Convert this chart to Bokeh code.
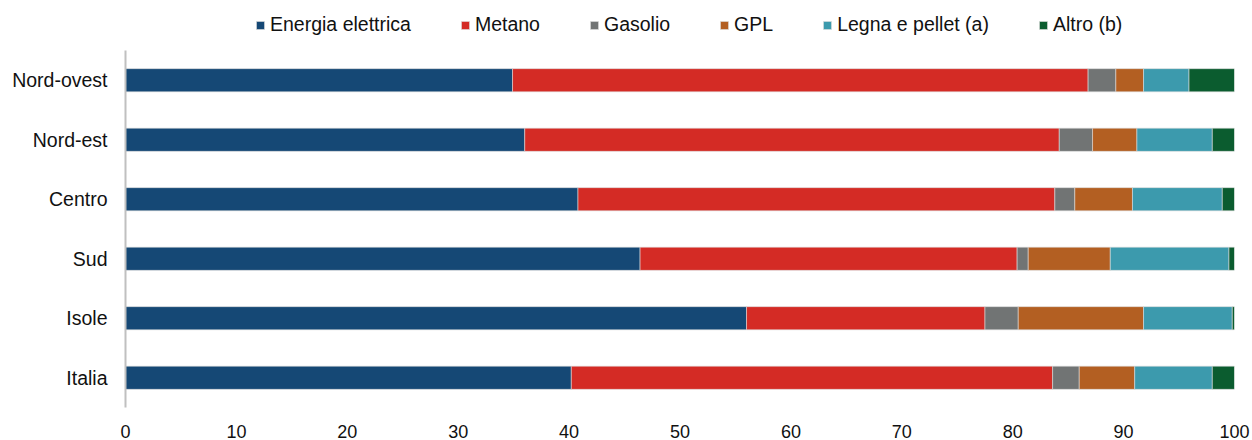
from bokeh.plotting import figure
from bokeh.models import Range1d, ColumnDataSource, Legend, LegendItem, FixedTicker
from bokeh.embed import file_html
from bokeh.resources import INLINE

# Regions, top to bottom
regions = ["Nord-ovest", "Nord-est", "Centro", "Sud", "Isole", "Italia"]

# Share (%) of each heating fuel per region
energia_elettrica = [34.9, 36.0, 40.8, 46.4, 56.0, 40.2]
metano = [51.9, 48.2, 43.0, 34.0, 21.5, 43.4]
gasolio = [2.5, 3.0, 1.8, 1.0, 3.0, 2.4]
gpl = [2.5, 4.0, 5.2, 7.4, 11.3, 5.0]
legna_pellet = [4.1, 6.8, 8.1, 10.7, 8.0, 7.0]
altro = [4.1, 2.0, 1.1, 0.5, 0.2, 2.0]

series_labels = ["Energia elettrica", "Metano", "Gasolio", "GPL", "Legna e pellet (a)", "Altro (b)"]
series_values = [energia_elettrica, metano, gasolio, gpl, legna_pellet, altro]
colors = ["#154875", "#d42b25", "#717474", "#b35f22", "#3c9aad", "#0b5c2f"]

x_ticks = [0, 10, 20, 30, 40, 50, 60, 70, 80, 90, 100]

FONT = "Liberation Sans"

# Layout in pixels: band for the legend on top, one row per region below it
BAND_PX = 50
ROW_PX = 59.5
FRAME_H = BAND_PX + ROW_PX * len(regions)

n = len(regions)
positions = [n - 1 - i for i in range(n)]   # first region on top

keys = ["s%d" % i for i in range(len(series_labels))]
data = {"pos": positions}
for k, vals in zip(keys, series_values):
    data[k] = vals
source = ColumnDataSource(data)

y_lo = -0.5
y_hi = y_lo + FRAME_H / ROW_PX

p = figure(
    width=1252, height=440,
    x_range=Range1d(0, 100),
    y_range=Range1d(y_lo, y_hi),
    output_backend="svg", toolbar_location=None,
    min_border_left=125, min_border_right=18,
    min_border_top=0, min_border_bottom=440 - int(round(FRAME_H)),
)
p.outline_line_color = None
p.xgrid.grid_line_color = None
p.ygrid.grid_line_color = None
p.background_fill_color = "white"
p.border_fill_color = "white"

renderers = p.hbar_stack(
    keys, y="pos", height=0.39, color=colors, source=source,
    line_color="#dcdcdc", line_width=0.6,
)

# x axis: labels only
xa = p.xaxis[0]
xa.ticker = FixedTicker(ticks=x_ticks)
xa.axis_line_color = None
xa.major_tick_line_color = None
xa.minor_tick_line_color = None
xa.major_tick_out = 0
xa.major_tick_in = 0
xa.major_label_standoff = 17
xa.major_label_text_font = FONT
xa.major_label_text_font_size = "18px"
xa.major_label_text_color = "#111111"

# y axis: light grey line spanning the rows, with region names
ya = p.yaxis[0]
ya.ticker = FixedTicker(ticks=positions)
ya.major_label_overrides = {pos: name for pos, name in zip(positions, regions)}
ya.bounds = (y_lo, y_lo + n)
ya.axis_line_color = "#c0c0c0"
ya.axis_line_width = 2
ya.major_tick_line_color = None
ya.minor_tick_line_color = None
ya.major_tick_out = 0
ya.major_tick_in = 0
ya.major_label_standoff = 18
ya.major_label_text_font = FONT
ya.major_label_text_font_size = "19.5px"
ya.major_label_text_color = "#111111"

# horizontal legend in the band above the bars
legend = Legend(
    items=[LegendItem(label=lab, renderers=[r]) for lab, r in zip(series_labels, renderers)],
    orientation="horizontal",
    location=(130, int(FRAME_H) - 36),
    glyph_width=10, glyph_height=10,
    label_standoff=5, spacing=49,
    padding=0, margin=0,
    label_text_font=FONT, label_text_font_size="19.5px",
    label_text_color="#111111",
    label_height=20,
    border_line_color=None, background_fill_alpha=0,
)
p.add_layout(legend, "center")

open("out.html", "w").write(file_html(p, INLINE))
